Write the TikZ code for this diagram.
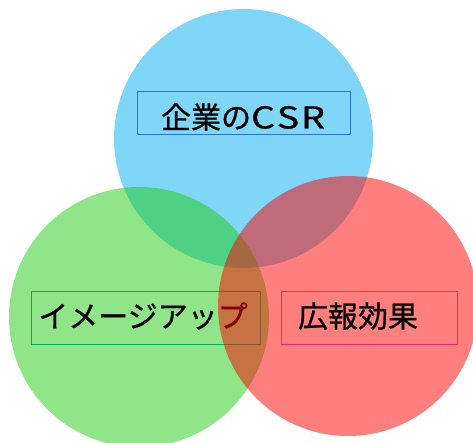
\documentclass[tikz,border=0pt]{standalone}
\usepackage{fontspec}
\newfontfamily\jp{Noto Sans CJK JP}[FakeBold=0.8]
\definecolor{cblue}{RGB}{0,174,237}
\definecolor{cgreen}{RGB}{31,204,16}
\definecolor{cred}{RGB}{255,0,0}
\definecolor{bblue}{RGB}{40,120,200}
\definecolor{bgreen}{RGB}{0,176,80}
\definecolor{bred}{RGB}{240,40,110}
\begin{document}
\begin{tikzpicture}[x=1pt,y=-1pt,
  disc/.style={fill opacity=0.5,draw=none},
  lbox/.style={draw,line width=0.9pt,inner sep=0pt,fill=none},
  ltext/.style={inner sep=0pt,font=\jp\fontsize{30}{30}\selectfont,text=black}]
\useasboundingbox (0,0) rectangle (473,443);
\fill[disc,cblue] (243.5,138.5) circle (129.5);
\node[lbox,draw=bblue,minimum width=213pt,minimum height=43pt] (bbox) at (243.5,112.5) {};
\node[ltext] (btext) at (243,117) {企業の\scalebox{1.25}[1]{C\kern1.5pt S\kern1.5pt R}};
\fill[disc,cgreen] (139,317) circle (130);
\node[lbox,draw=bgreen,minimum width=229pt,minimum height=53pt] (gbox) at (145.5,317.5) {};
\node[ltext] (gtext) at (143,316) {イメージアップ};
\fill[disc,cred] (348,306) circle (130);
\node[lbox,draw=bred,minimum width=176pt,minimum height=53pt] (rbox) at (369,317.5) {};
\node[ltext] (rtext) at (358,316) {広報効果};
\end{tikzpicture}
\end{document}
